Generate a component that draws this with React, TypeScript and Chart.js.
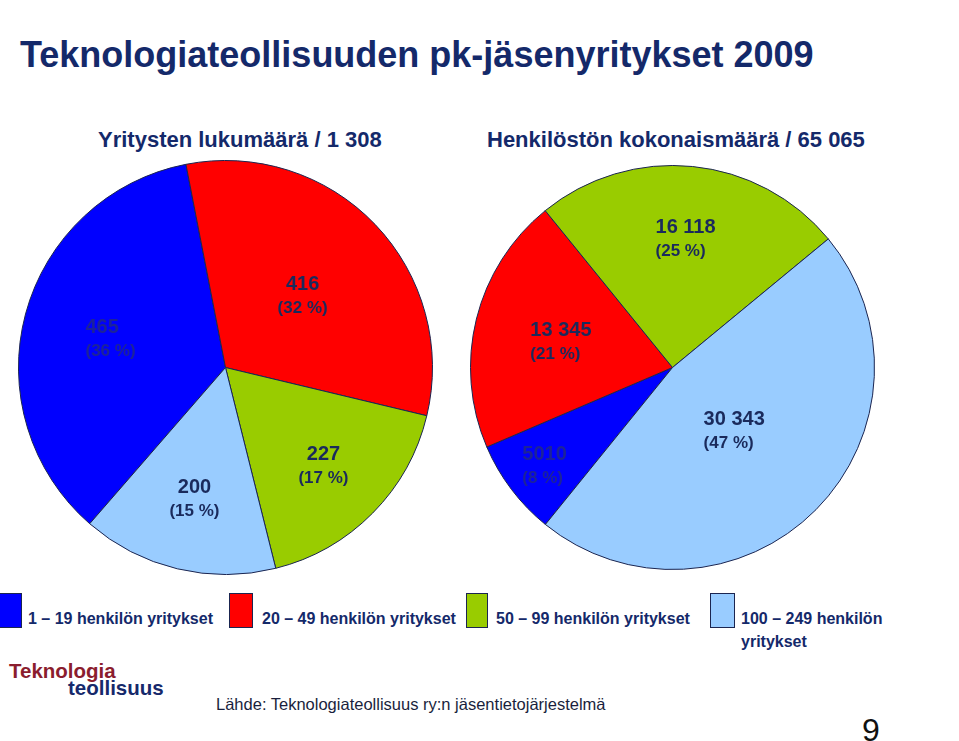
import React, { useEffect, useRef } from "react";
import { Chart, registerables } from "chart.js";

Chart.register(...registerables);

// ---------- data ----------
const title = "Teknologiateollisuuden pk-jäsenyritykset 2009";
const leftSubtitle = "Yritysten lukumäärä / 1 308";
const rightSubtitle = "Henkilöstön kokonaismäärä / 65 065";
const categories = [
  "1 – 19 henkilön yritykset",
  "20 – 49 henkilön yritykset",
  "50 – 99 henkilön yritykset",
  "100 – 249 henkilön yritykset",
];
const companyCounts = [465, 416, 227, 200];
const employeeCounts = [5010, 13345, 16118, 30343];
const sourceText = "Lähde: Teknologiateollisuus ry:n jäsentietojärjestelmä";
const pageNumber = "9";

// ---------- styles ----------
const sliceColors = ["#0000FF", "#FF0000", "#99CC00", "#99CCFF"];
const labelColors = ["#1c2399", "#1a2a5c", "#1a2a5c", "#1a2a5c"];
const NAVY = "#14296a";
const FONT = '"Liberation Sans", Arial, Helvetica, sans-serif';

function fmt(v: number): string {
  const s = String(v);
  return v >= 10000 ? s.replace(/\B(?=(\d{3})+(?!\d))/g, " ") : s;
}

const labelPlugin = {
  id: "sliceLabels",
  afterDatasetsDraw(chart: any, _args: any, opts: any) {
    const ctx = chart.ctx;
    const meta = chart.getDatasetMeta(0);
    const data: number[] = chart.data.datasets[0].data;
    const total = data.reduce((a, b) => a + b, 0);
    meta.data.forEach((arc: any, i: number) => {
      const p = arc.getProps(["x", "y", "startAngle", "endAngle", "outerRadius"], true);
      const mid = (p.startAngle + p.endAngle) / 2;
      const r = p.outerRadius * opts.fractions[i];
      const cx = p.x + Math.cos(mid) * r;
      const cy = p.y + Math.sin(mid) * r;
      const t1 = fmt(data[i]);
      const t2 = `(${Math.round((data[i] / total) * 100)} %)`;
      ctx.save();
      ctx.fillStyle = labelColors[i];
      ctx.textBaseline = "alphabetic";
      const f1 = `bold 20px ${FONT}`;
      const f2 = `bold 17px ${FONT}`;
      ctx.font = f1;
      const w1 = ctx.measureText(t1).width;
      ctx.font = f2;
      const w2 = ctx.measureText(t2).width;
      const align = opts.aligns[i];
      if (align === "left") {
        const lx = cx - Math.max(w1, w2) / 2;
        ctx.textAlign = "left";
        ctx.font = f1;
        ctx.fillText(t1, lx, cy - 4);
        ctx.font = f2;
        ctx.fillText(t2, lx, cy + 19);
      } else {
        ctx.textAlign = "center";
        ctx.font = f1;
        ctx.fillText(t1, cx, cy - 4);
        ctx.font = f2;
        ctx.fillText(t2, cx, cy + 19);
      }
      ctx.restore();
    });
  },
};

type PieProps = {
  values: number[];
  rotation: number;
  fractions: number[];
  aligns: string[];
  left: number;
  top: number;
  size: number;
};

function PieCanvas({ values, rotation, fractions, aligns, left, top, size }: PieProps) {
  const ref = useRef<HTMLCanvasElement>(null);
  useEffect(() => {
    const chart = new Chart(ref.current as HTMLCanvasElement, {
      type: "pie",
      data: {
        labels: categories,
        datasets: [
          {
            data: values,
            backgroundColor: sliceColors,
            borderColor: "#1b2550",
            borderWidth: 1,
          },
        ],
      },
      options: {
        responsive: false,
        animation: false,
        rotation,
        layout: { padding: 0 },
        events: [],
        plugins: {
          legend: { display: false },
          tooltip: { enabled: false },
          // @ts-ignore
          sliceLabels: { fractions, aligns },
        },
      } as any,
      plugins: [labelPlugin as any],
    });
    return () => chart.destroy();
  }, []);
  return (
    <canvas
      ref={ref}
      width={size}
      height={size}
      style={{ position: "absolute", left, top, width: size, height: size }}
    />
  );
}

function Text({
  children,
  left,
  baseline,
  size,
  bold = true,
  color = NAVY,
}: {
  children: React.ReactNode;
  left: number;
  baseline: number;
  size: number;
  bold?: boolean;
  color?: string;
}) {
  return (
    <div
      style={{
        position: "absolute",
        left,
        top: baseline - 0.8465 * size,
        fontFamily: FONT,
        fontSize: size,
        lineHeight: 1,
        fontWeight: bold ? "bold" : "normal",
        color,
        whiteSpace: "nowrap",
      }}
    >
      {children}
    </div>
  );
}

const legendLayout = [
  { box: -3, w: 25, text: 28 },
  { box: 229, w: 24, text: 262 },
  { box: 466, w: 22, text: 496 },
  { box: 710, w: 25, text: 741 },
];

export default function App() {
  return (
    <div
      style={{
        position: "fixed",
        left: 0,
        top: 0,
        width: 959,
        height: 741,
        background: "#ffffff",
        overflow: "hidden",
      }}
    >
      <Text left={20} baseline={67} size={36}>
        {title}
      </Text>
      <Text left={98} baseline={148} size={22}>
        {leftSubtitle}
      </Text>
      <Text left={487} baseline={148} size={22}>
        {rightSubtitle}
      </Text>

      <PieCanvas
        values={companyCounts}
        rotation={221}
        fractions={[0.575, 0.516, 0.666, 0.643]}
        aligns={["left", "center", "center", "center"]}
        left={18}
        top={160}
        size={415}
      />
      <PieCanvas
        values={employeeCounts}
        rotation={219}
        fractions={[0.794, 0.569, 0.651, 0.43]}
        aligns={["left", "left", "left", "left"]}
        left={470}
        top={165}
        size={405}
      />

      {categories.map((c, i) => {
        const L = legendLayout[i];
        const words = c.split(" ");
        const last = i === 3;
        return (
          <React.Fragment key={c}>
            <div
              style={{
                position: "absolute",
                left: L.box,
                top: 593,
                width: L.w,
                height: 35,
                boxSizing: "border-box",
                background: sliceColors[i],
                border: "1px solid #1b2550",
              }}
            />
            {last ? (
              <>
                <Text left={L.text} baseline={625} size={16}>
                  {words.slice(0, 4).join(" ")}
                </Text>
                <Text left={L.text} baseline={648} size={16}>
                  {words.slice(4).join(" ")}
                </Text>
              </>
            ) : (
              <Text left={L.text} baseline={625} size={16}>
                {c}
              </Text>
            )}
          </React.Fragment>
        );
      })}

      <Text left={9} baseline={678} size={20.5} color="#8b1d2e">
        Teknologia
      </Text>
      <Text left={68} baseline={695} size={20.5} color="#16296b">
        teollisuus
      </Text>

      <Text left={216} baseline={710} size={16.5} bold={false} color="#1a1f3d">
        {sourceText}
      </Text>
      <Text left={862} baseline={741} size={32} bold={false} color="#111111">
        {pageNumber}
      </Text>
    </div>
  );
}
